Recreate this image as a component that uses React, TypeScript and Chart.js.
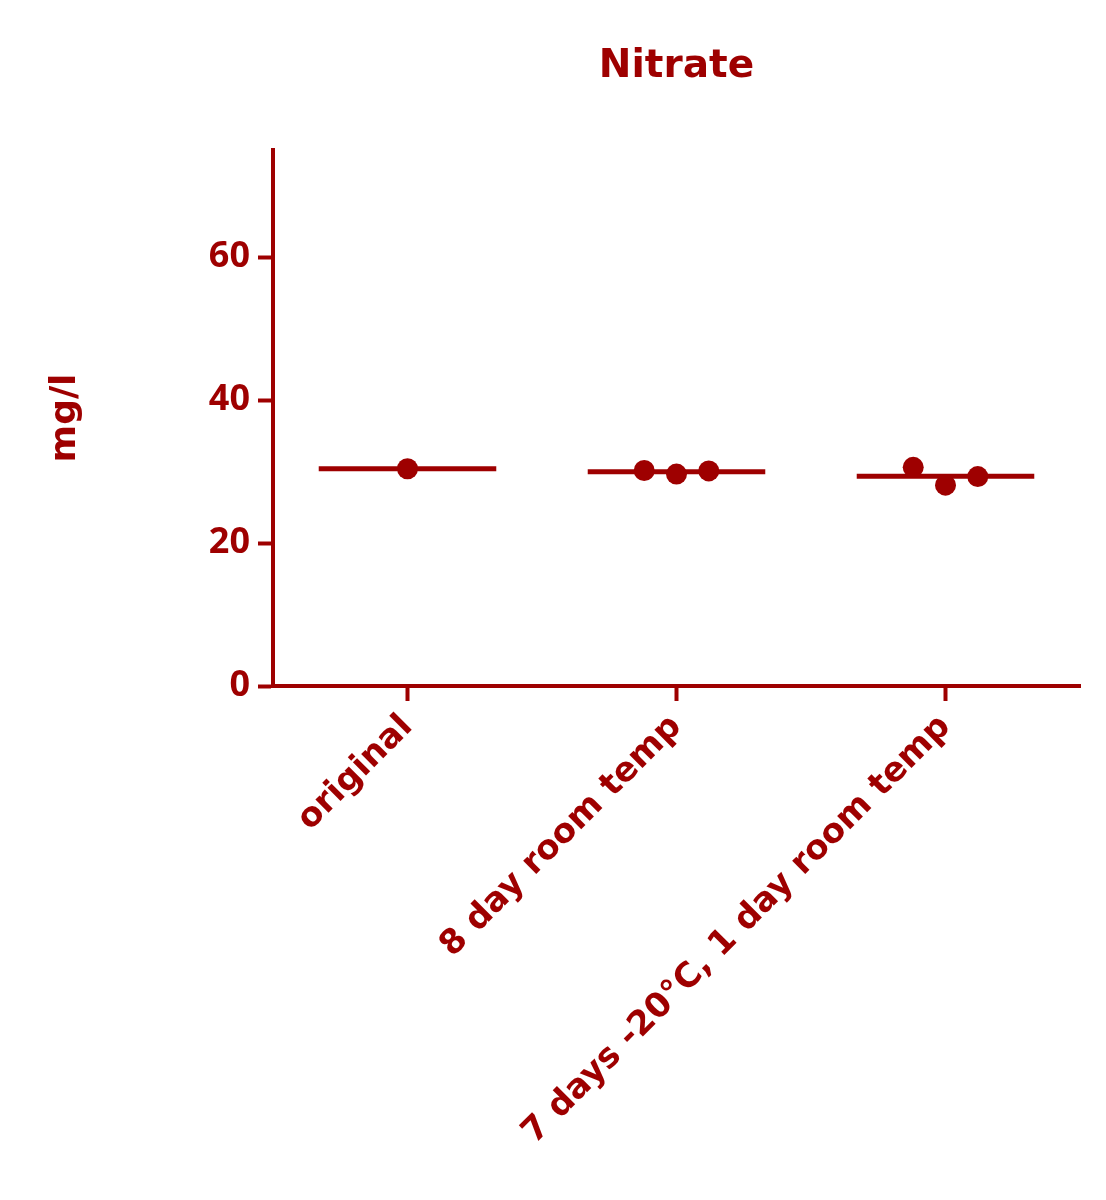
import React, { useEffect, useRef } from "react";
import { Chart, registerables } from "chart.js";

Chart.register(...registerables);

const chartTitle = "Nitrate";
const yAxisLabel = "mg/l";
const categories = ["original", "8 day room temp", "7 days -20°C, 1 day room temp"];
const originalValues = [30.4];
const eightDayValues = [30.15, 29.65, 30.1];
const sevenDayValues = [30.6, 28.1, 29.3];
const groups = [originalValues, eightDayValues, sevenDayValues];
const yTicks = [0, 20, 40, 60];
const yMin = 0;
const yMax = 75;

const COLOR = "#9E0000";
const FONT = "'DejaVu Sans', Verdana, sans-serif";
const TICK_FONT = "'Open Sans', 'Liberation Sans', Arial, sans-serif";
const JITTER = 0.12;
const MEAN_HALF = 0.33;

export default function App() {
  const ref = useRef<HTMLCanvasElement | null>(null);

  useEffect(() => {
    if (!ref.current) return;
    const datasets: any[] = [];
    groups.forEach((vals, i) => {
      const n = vals.length;
      const mean = vals.reduce((a, b) => a + b, 0) / n;
      datasets.push({
        type: "scatter",
        data: [
          { x: i - MEAN_HALF, y: mean },
          { x: i + MEAN_HALF, y: mean },
        ],
        showLine: true,
        borderColor: COLOR,
        borderWidth: 5,
        pointRadius: 0,
        order: 2,
      });
      datasets.push({
        type: "scatter",
        data: vals.map((v, j) => ({ x: i + (j - (n - 1) / 2) * JITTER, y: v })),
        backgroundColor: COLOR,
        borderColor: COLOR,
        pointStyle: "circle",
        pointRadius: 10.5,
        pointBorderWidth: 0,
        order: 1,
      });
    });

    const chart = new Chart(ref.current, {
      type: "scatter",
      data: { datasets },
      options: {
        responsive: false,
        animation: false,
        layout: { padding: { left: 0, right: 26, top: 0, bottom: 0 } },
        plugins: {
          legend: { display: false },
          tooltip: { enabled: false },
          title: {
            display: true,
            text: chartTitle,
            color: COLOR,
            fullSize: false,
            font: { family: FONT, size: 39, weight: "bold" },
            padding: { top: 43.6, bottom: 59.6 },
          },
        },
        scales: {
          x: {
            type: "linear",
            min: -0.5,
            max: categories.length - 0.5,
            afterBuildTicks: (scale: any) => {
              scale.ticks = categories.map((_, i) => ({ value: i }));
            },
            afterFit: (scale: any) => {
              scale.height = 1200 - 686;
            },
            ticks: {
              autoSkip: false,
              minRotation: 45,
              maxRotation: 45,
              padding: 6,
              color: COLOR,
              font: { family: FONT, size: 34, weight: "bold" },
              callback: (v: any) => categories[Math.round(Number(v))] ?? "",
            },
            grid: {
              drawOnChartArea: false,
              drawTicks: true,
              tickLength: 15,
              tickWidth: 4,
              color: COLOR,
            },
            border: { display: true, color: COLOR, width: 4 },
          },
          y: {
            type: "linear",
            min: yMin,
            max: yMax,
            afterBuildTicks: (scale: any) => {
              scale.ticks = yTicks.map((v) => ({ value: v }));
            },
            afterFit: (scale: any) => {
              scale.width = 273;
            },
            ticks: {
              padding: 8,
              color: COLOR,
              font: { family: TICK_FONT, size: 36, weight: "bold" },
            },
            grid: {
              drawOnChartArea: false,
              drawTicks: true,
              tickLength: 15,
              tickWidth: 4,
              color: COLOR,
            },
            border: { display: true, color: COLOR, width: 4 },
            title: {
              display: true,
              text: yAxisLabel,
              color: COLOR,
              font: { family: FONT, size: 36, weight: "bold" },
              padding: { top: 44, bottom: 0 },
            },
          },
        },
      },
    });
    return () => chart.destroy();
  }, []);

  return (
    <div style={{ position: "absolute", left: 0, top: 0, width: 1106, height: 1200, background: "#fff" }}>
      <canvas ref={ref} width={1106} height={1200} style={{ display: "block" }} />
    </div>
  );
}
